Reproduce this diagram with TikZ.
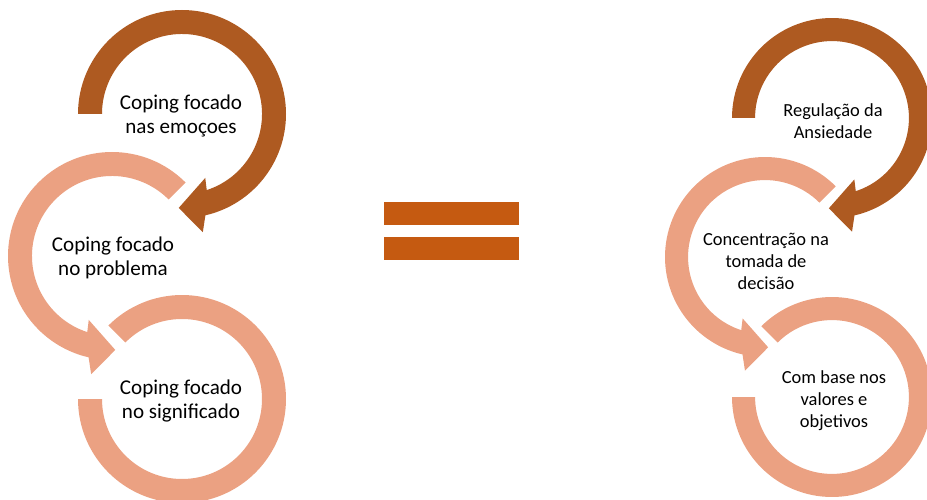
\documentclass[tikz,border=0pt]{standalone}
\usepackage{fontspec}
\setmainfont{Carlito}
\usepackage{tikz}
\definecolor{ringdark}{HTML}{AE5A21}
\definecolor{ringlight}{HTML}{EBA182}
\definecolor{eqorange}{HTML}{C55A11}
\definecolor{ink}{HTML}{000000}
\tikzset{
  dark/.style={fill=ringdark, draw=none},
  light/.style={fill=ringlight, draw=none},
  bar/.style={fill=eqorange, draw=none},
  lab/.style={text=ink, align=center, inner sep=0pt, font=\fontsize{12}{13.5}\selectfont},
  labs/.style={text=ink, align=center, inner sep=0pt, font=\fontsize{10.5}{12.5}\selectfont}
}

\begin{document}
\begin{tikzpicture}[x=0.02cm, y=0.02cm]
  \clip (0,0) rectangle (927,-500);
  \def\ro{104}
  \def\ri{80}
  \coordinate (t1) at (182,-114);
  \coordinate (m1) at (112,-256);
  \coordinate (b1) at (182,-399);
  \coordinate (t2) at (832,-118);
  \coordinate (m2) at (765,-257);
  \coordinate (b2) at (832,-397);

  \foreach \t/\m/\b/\s in {t1/m1/b1/1, t2/m2/b2/0.9615}{
    \begin{scope}[shift={(\t)}, scale=\s]
      \fill[dark] (180:\ro) arc[start angle=180, end angle=-77, radius=\ro]
        -- (-80:120) -- (-92:94) -- (-70:68) -- (-72:\ri)
        arc[start angle=-72, end angle=180, radius=\ri] -- cycle;
    \end{scope}
    \begin{scope}[shift={(\m)}, scale=\s]
      \fill[light] (45:\ro) arc[start angle=45, end angle=257, radius=\ro]
        -- (260:120) -- (272:94) -- (250:68) -- (252:\ri)
        arc[start angle=252, end angle=45, radius=\ri] -- cycle;
    \end{scope}
    \begin{scope}[shift={(\b)}, scale=\s]
      \fill[light] (180:\ro) arc[start angle=180, end angle=495, radius=\ro]
        -- (135:\ri) arc[start angle=135, end angle=-180, radius=\ri] -- cycle;
    \end{scope}
  }

  \fill[bar] (384,-202) rectangle (519,-225);
  \fill[bar] (384,-237) rectangle (519,-260);

  \node[lab] (emo) at (181,-116) {Coping focado\\nas emoçoes};
  \node[lab] (prob) at (113,-258) {Coping focado\\no problema};
  \node[lab] (sig) at (181,-401) {Coping focado\\no significado};
  \node[labs] (regul) at (833,-121) {Regulação da\\Ansiedade};
  \node[labs] (conc) at (766,-261) {Concentração na\\tomada de\\decisão};
  \node[labs] (valor) at (834,-401) {Com base nos\\valores e\\objetivos};
\end{tikzpicture}
\end{document}
